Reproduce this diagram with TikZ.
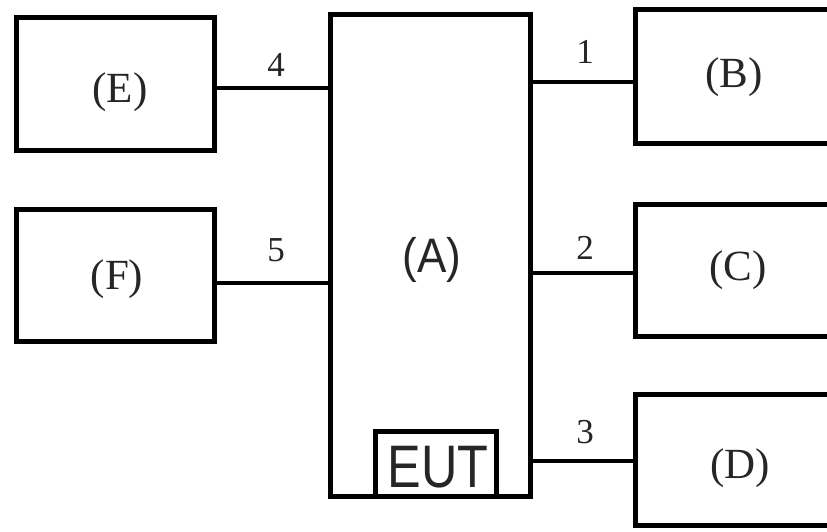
\documentclass[tikz,border=0pt]{standalone}
\usepackage{fontspec}
\setmainfont{Liberation Serif}
\newfontfamily\lsans{Liberation Sans}
\begin{document}
\begin{tikzpicture}[x=1pt,y=-1pt,
  box/.style={draw=black,line width=5pt,rectangle,inner sep=0pt,outer sep=0pt,fill=white},
  wire/.style={draw=black,line width=4.5pt},
  lbl/.style={font=\fontsize{43}{43}\selectfont,inner sep=0pt,text=black!85},
  num/.style={font=\fontsize{35}{35}\selectfont,inner sep=0pt,text=black!85}]
\useasboundingbox (0,0) rectangle (827,531);
\fill[white] (0,0) rectangle (827,531);
\begin{scope}
\clip (0,0) rectangle (827,531);
\node[box,minimum width=198pt,minimum height=133pt] (E) at (115.5,84) {};
\node[box,minimum width=198pt,minimum height=132pt] (F) at (115.5,275.5) {};
\node[box,minimum width=200pt,minimum height=482pt] (A) at (430.5,255.5) {};
\node[box,minimum width=121pt,minimum height=65pt] (EUT) at (436,464) {};
\node[box,minimum width=264.5pt,minimum height=134pt] (B) at (767.75,76.5) {};
\node[box,minimum width=264.5pt,minimum height=132pt] (C) at (767.75,270.5) {};
\node[box,minimum width=264.5pt,minimum height=131pt] (D) at (767.75,460) {};
\end{scope}
\node[lbl] at (120,92) {(E)};
\node[lbl] at (117,279) {(F)};
\node[lbl] at (734,77) {(B)};
\node[lbl] at (738,270) {(C)};
\node[lbl] at (740,468) {(D)};
\node[inner sep=0pt,font=\lsans\fontsize{44}{44}\selectfont,yscale=1.1,text=black!85] at (432,260) {(A)};
\node[inner sep=0pt,font=\lsans\fontsize{60}{60}\selectfont,xscale=0.84,text=black!85] at (438,467) {EUT};
\draw[wire] (E.east |- 0,88) -- (A.west |- 0,88);
\draw[wire] (F.east |- 0,283) -- (A.west |- 0,283);
\draw[wire] (A.east |- 0,82) -- (B.west |- 0,82);
\draw[wire] (A.east |- 0,273) -- (C.west |- 0,273);
\draw[wire] (A.east |- 0,461) -- (D.west |- 0,461);
\node[num] at (276,65) {4};
\node[num] at (276,250) {5};
\node[num] at (585,52) {1};
\node[num] at (585,248) {2};
\node[num] at (585,432) {3};
\end{tikzpicture}
\end{document}
